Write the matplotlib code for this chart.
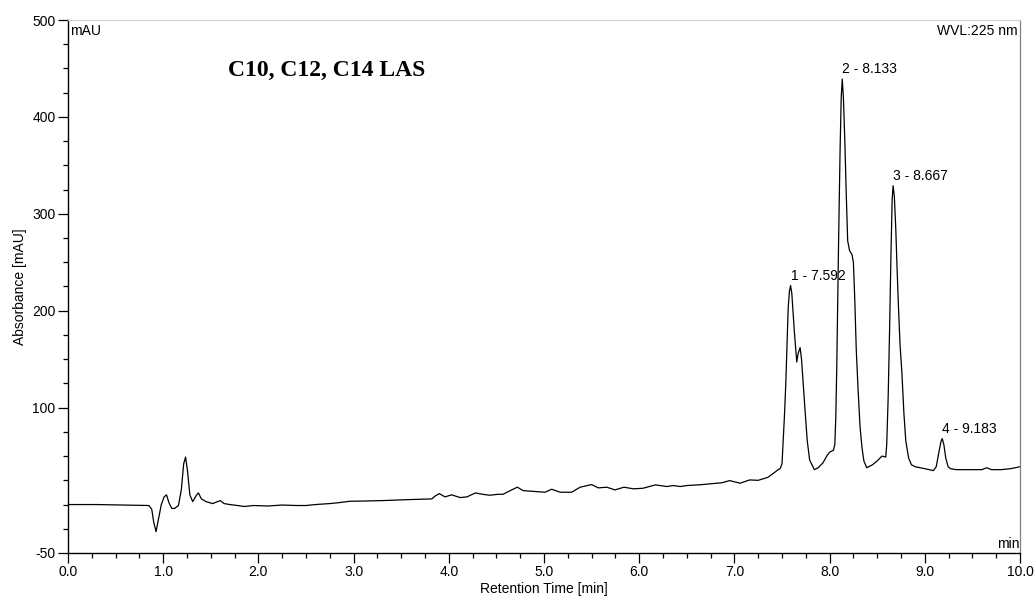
## Chromatogram of C10, C12, C14 LAS (UV 225 nm)
## Values.

import matplotlib.pyplot as plt
from matplotlib.ticker import MultipleLocator, FixedLocator

# retention time [min] and absorbance [mAU] of the trace
time = [0.00, 0.30, 0.60, 0.85, 0.88, 0.90, 0.925, 0.95, 0.98, 1.01,
        1.035, 1.06, 1.09, 1.12, 1.16, 1.19, 1.215, 1.235, 1.255, 1.28,
        1.31, 1.345, 1.37, 1.40, 1.45, 1.52, 1.57, 1.60, 1.64, 1.70,
        1.78, 1.85, 1.95, 2.10, 2.25, 2.40, 2.50, 2.60, 2.75, 2.85,
        2.96, 3.10, 3.31, 3.55, 3.82, 3.86, 3.90, 3.96, 4.03, 4.12,
        4.19, 4.28, 4.36, 4.43, 4.52, 4.57, 4.66, 4.72, 4.78, 4.92,
        5.01, 5.08, 5.17, 5.29, 5.38, 5.41, 5.50, 5.57, 5.66, 5.745,
        5.84, 5.94, 6.04, 6.17, 6.29, 6.36, 6.43, 6.50, 6.65, 6.81,
        6.87, 6.95, 7.06, 7.16, 7.25, 7.35, 7.42, 7.46, 7.48, 7.50,
        7.51, 7.525, 7.54, 7.555, 7.565, 7.578, 7.59, 7.603, 7.615, 7.63,
        7.64, 7.655, 7.67, 7.69, 7.705, 7.72, 7.74, 7.765, 7.79, 7.84,
        7.88, 7.93, 7.97, 8.00, 8.04, 8.055, 8.065, 8.075, 8.085, 8.095,
        8.11, 8.122, 8.133, 8.145, 8.16, 8.175, 8.19, 8.21, 8.235, 8.25,
        8.265, 8.28, 8.30, 8.32, 8.34, 8.36, 8.39, 8.45, 8.50, 8.55,
        8.59, 8.60, 8.615, 8.63, 8.645, 8.657, 8.667, 8.68, 8.695, 8.71,
        8.725, 8.74, 8.76, 8.78, 8.80, 8.83, 8.86, 8.90, 8.95, 9.00,
        9.09, 9.12, 9.15, 9.17, 9.183, 9.20, 9.22, 9.245, 9.27, 9.33,
        9.50, 9.60, 9.65, 9.70, 9.80, 9.90, 10.00]
absorbance = [0.0, 0.0, -0.5, -1.0, -5.0, -18.0, -28.0, -15.0, 0.0, 8.0,
              10.0, 2.0, -4.0, -4.0, -1.0, 15.0, 42.0, 49.0, 35.0, 10.0,
              3.0, 9.0, 12.0, 6.0, 3.0, 1.0, 3.0, 4.0, 1.0, 0.0,
              -1.0, -2.0, -1.0, -1.5, -0.5, -1.0, -1.0, 0.0, 1.0, 2.0,
              3.4, 3.6, 4.1, 5.0, 5.8, 9.0, 11.3, 7.9, 10.0, 7.2,
              7.9, 12.0, 10.5, 9.6, 10.6, 10.6, 15.1, 17.9, 14.4, 13.4,
              12.7, 15.8, 12.7, 12.7, 17.9, 18.6, 20.6, 17.2, 17.9, 15.1,
              17.9, 16.2, 16.8, 20.3, 18.6, 19.6, 18.6, 19.6, 20.5, 22.0,
              22.5, 24.7, 22.0, 25.4, 25.0, 28.0, 33.0, 36.0, 37.0, 42.0,
              62.0, 90.0, 125.0, 170.0, 203.0, 220.0, 226.0, 218.0, 200.0, 178.0,
              165.0, 147.0, 156.0, 162.0, 150.0, 128.0, 100.0, 66.0, 46.0, 36.0,
              38.0, 43.0, 50.0, 54.0, 56.0, 62.0, 90.0, 140.0, 210.0, 275.0,
              365.0, 420.0, 439.0, 420.0, 375.0, 320.0, 272.0, 262.0, 258.0, 250.0,
              210.0, 160.0, 117.0, 80.0, 59.0, 45.0, 38.0, 41.0, 45.0, 50.0,
              49.0, 62.0, 110.0, 180.0, 260.0, 315.0, 329.0, 318.0, 285.0, 240.0,
              200.0, 165.0, 135.0, 95.0, 66.0, 48.0, 41.0, 39.0, 38.0, 37.0,
              35.0, 39.0, 55.0, 65.0, 68.0, 62.0, 48.0, 39.0, 37.0, 36.0,
              36.0, 36.0, 38.0, 36.0, 36.0, 37.0, 39.0]

# integrated peaks
peak_ids = [1, 2, 3, 4]
peak_times = [7.592, 8.133, 8.667, 9.183]
peak_heights = [226, 439, 329, 68]

plt.rcParams['font.family'] = ['Liberation Sans', 'DejaVu Sans']
plt.rcParams['axes.unicode_minus'] = False

fig = plt.figure(figsize=(10.35, 6), dpi=100)
ax = fig.add_axes([68 / 1035, 1 - 553 / 600, 952 / 1035, 533 / 600])

ax.plot(time, absorbance, color='black', linewidth=0.9)

for pid, pt, ph in zip(peak_ids, peak_times, peak_heights):
    ax.annotate('%d - %.3f' % (pid, pt), xy=(pt, ph), xytext=(0, 2),
                textcoords='offset points', ha='left', va='bottom', fontsize=10)

ax.set_xlim(0, 10)
ax.set_ylim(-50, 500)

ax.xaxis.set_major_locator(MultipleLocator(1.0))
ax.xaxis.set_minor_locator(MultipleLocator(0.25))
ax.xaxis.set_major_formatter(plt.FormatStrFormatter('%.1f'))
ax.yaxis.set_major_locator(FixedLocator([-50, 100, 200, 300, 400, 500]))
ax.yaxis.set_minor_locator(MultipleLocator(25))
ax.tick_params(which='major', length=7, width=0.9, labelsize=10, pad=2, direction='out')
ax.tick_params(which='minor', length=3.5, width=0.9, direction='out')

ax.spines['left'].set_linewidth(1.0)
ax.spines['bottom'].set_linewidth(1.0)
ax.spines['top'].set_color('#d4d4d4')
ax.spines['top'].set_linewidth(0.9)
ax.spines['right'].set_color('#808080')
ax.spines['right'].set_linewidth(0.9)

ax.set_xlabel('Retention Time [min]', fontsize=10, labelpad=2)
ax.set_ylabel('Absorbance [mAU]', fontsize=10, labelpad=4)

ax.text(0.002, 0.992, 'mAU', transform=ax.transAxes, ha='left', va='top', fontsize=10)
ax.text(0.998, 0.992, 'WVL:225 nm', transform=ax.transAxes, ha='right', va='top', fontsize=10)
ax.text(0.999, 0.004, 'min', transform=ax.transAxes, ha='right', va='bottom', fontsize=10)
ax.text(0.168, 0.906, 'C10, C12, C14 LAS', transform=ax.transAxes, ha='left', va='center',
        fontsize=17, fontweight='bold', family='Liberation Serif')

fig.savefig('out.png', dpi=100)
